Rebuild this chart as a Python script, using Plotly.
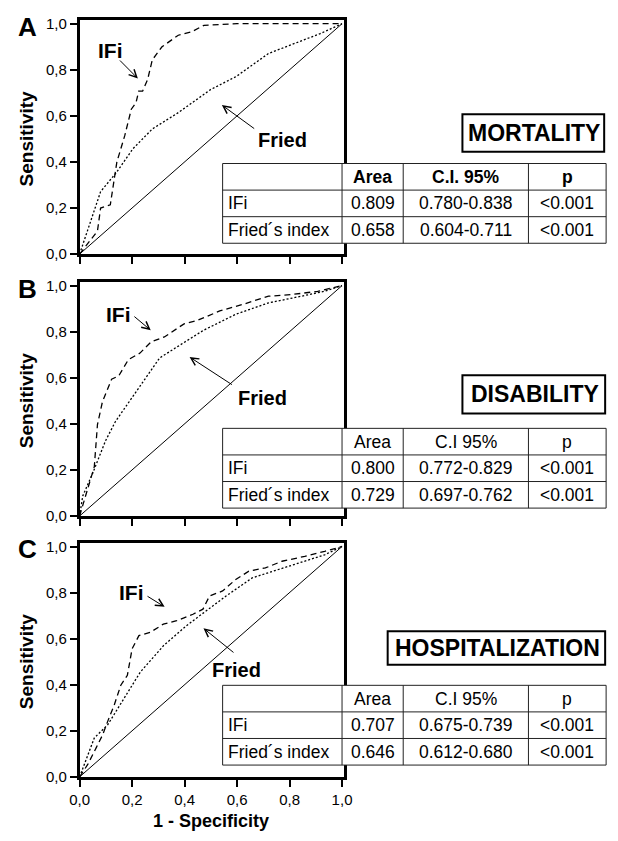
import plotly.graph_objects as go

W, H = 618, 841

# ---------------- data ----------------
panels = ["A", "B", "C"]
outcomes = ["MORTALITY", "DISABILITY", "HOSPITALIZATION"]

ifi_A_x = [0, 0.068, 0.08, 0.117, 0.142, 0.172, 0.197, 0.215, 0.225, 0.24, 0.259, 0.277, 0.314, 0.376, 0.425, 0.474, 0.6, 1.0]
ifi_A_y = [0, 0.10, 0.20, 0.214, 0.40, 0.514, 0.629, 0.657, 0.707, 0.707, 0.757, 0.843, 0.90, 0.95, 0.964, 0.993, 1.0, 1.0]
fried_A_x = [0, 0.08, 0.142, 0.203, 0.277, 0.376, 0.499, 0.597, 0.72, 0.819, 0.917, 1.0]
fried_A_y = [0, 0.271, 0.357, 0.457, 0.543, 0.614, 0.714, 0.771, 0.871, 0.914, 0.957, 1.0]

ifi_B_x = [0, 0.012, 0.056, 0.068, 0.087, 0.122, 0.149, 0.186, 0.23, 0.273, 0.323, 0.398, 0.447, 0.534, 0.621, 0.72, 0.807, 0.907, 1.0]
ifi_B_y = [0, 0.045, 0.214, 0.397, 0.496, 0.594, 0.608, 0.679, 0.707, 0.756, 0.777, 0.834, 0.848, 0.89, 0.918, 0.954, 0.961, 0.975, 1.0]
fried_B_x = [0, 0.012, 0.05, 0.099, 0.137, 0.224, 0.305, 0.373, 0.472, 0.596, 0.72, 0.845, 0.932, 1.0]
fried_B_y = [0, 0.087, 0.186, 0.327, 0.411, 0.552, 0.686, 0.735, 0.806, 0.876, 0.925, 0.954, 0.975, 1.0]

ifi_C_x = [0, 0.031, 0.063, 0.088, 0.107, 0.132, 0.157, 0.182, 0.20, 0.226, 0.269, 0.319, 0.37, 0.432, 0.47, 0.495, 0.545, 0.595, 0.645, 0.708, 0.771, 0.858, 0.934, 1.0]
ifi_C_y = [0, 0.054, 0.126, 0.183, 0.241, 0.312, 0.398, 0.441, 0.556, 0.613, 0.627, 0.663, 0.678, 0.706, 0.728, 0.785, 0.807, 0.857, 0.893, 0.907, 0.936, 0.957, 0.979, 1.0]
fried_C_x = [0, 0.056, 0.107, 0.169, 0.232, 0.32, 0.407, 0.457, 0.558, 0.658, 0.758, 0.858, 0.934, 1.0]
fried_C_y = [0, 0.169, 0.226, 0.341, 0.456, 0.57, 0.656, 0.699, 0.785, 0.864, 0.90, 0.936, 0.964, 1.0]

ifi_x = [ifi_A_x, ifi_B_x, ifi_C_x]
ifi_y = [ifi_A_y, ifi_B_y, ifi_C_y]
fried_x = [fried_A_x, fried_B_x, fried_C_x]
fried_y = [fried_A_y, fried_B_y, fried_C_y]

table_header = ["", "Area", "C.I. 95%", "p"]
table_header_bc = ["", "Area", "C.I 95%", "p"]
row_labels = ["IFi", "Fried\u00b4s index"]
area_values = [["0.809", "0.658"], ["0.800", "0.729"], ["0.707", "0.646"]]
ci_values = [["0.780-0.838", "0.604-0.711"], ["0.772-0.829", "0.697-0.762"], ["0.675-0.739", "0.612-0.680"]]
p_values = [["<0.001", "<0.001"], ["<0.001", "<0.001"], ["<0.001", "<0.001"]]

tick_vals = [0, 0.2, 0.4, 0.6, 0.8, 1.0]
tick_text = ["0,0", "0,2", "0,4", "0,6", "0,8", "1,0"]

# ---------------- layout geometry (pixels) ----------------
FONT = "Arial, Liberation Sans, sans-serif"
X0, X1, XF = 71.7, 342.0, 344.0          # x=0, x=1, frame right
Y0 = [253, 519, 784]                      # y=0 pixel per panel
SPAN = 234                                # pixels per unit y
TOPPAD = 4
TAB_FS = 17.5

def px(x):
    return x / W

def py(y):
    return 1 - y / H

def ptxt(text, x, y, size, anchor="center", **kw):
    d = dict(text=text, x=px(x), y=py(y), xref="paper", yref="paper", showarrow=False,
             xanchor=anchor, yanchor="middle", font=dict(size=size, family=FONT, color="black"))
    d.update(kw)
    return d

fig = go.Figure()
layout = dict(width=W, height=H, margin=dict(l=0, r=0, t=0, b=0),
              paper_bgcolor="white", plot_bgcolor="white", showlegend=False,
              font=dict(family=FONT, color="black"))
annotations = []
shapes = []

xr = [0, (XF - X0) / (X1 - X0)]
for i in range(3):
    suf = "" if i == 0 else str(i + 1)
    xa, ya = "x" + suf, "y" + suf
    y0 = Y0[i]
    ytop = y0 - SPAN - TOPPAD
    layout["xaxis" + suf] = dict(domain=[px(X0), px(XF)], range=xr, anchor=ya,
                                 showline=True, linewidth=2.5, linecolor="black", mirror=True,
                                 ticks="outside", ticklen=7, tickwidth=1.5, tickcolor="black",
                                 tickvals=tick_vals, ticktext=tick_text,
                                 showticklabels=(i == 2), showgrid=False, zeroline=False,
                                 tickfont=dict(size=15, family=FONT))
    layout["yaxis" + suf] = dict(domain=[py(y0), py(ytop)], range=[0, 1 + TOPPAD / SPAN], anchor=xa,
                                 showline=True, linewidth=2.5, linecolor="black", mirror=True,
                                 ticks="outside", ticklen=7, tickwidth=1.5, tickcolor="black",
                                 tickvals=tick_vals, ticktext=tick_text,
                                 showgrid=False, zeroline=False,
                                 tickfont=dict(size=15, family=FONT))
    fig.add_trace(go.Scatter(x=[0, 1], y=[0, 1], mode="lines", xaxis=xa, yaxis=ya,
                             line=dict(color="black", width=1), hoverinfo="skip"))
    fig.add_trace(go.Scatter(x=fried_x[i], y=fried_y[i], mode="lines", xaxis=xa, yaxis=ya,
                             line=dict(color="black", width=1.3, dash="2px,2px"), name="Fried"))
    fig.add_trace(go.Scatter(x=ifi_x[i], y=ifi_y[i], mode="lines", xaxis=xa, yaxis=ya,
                             line=dict(color="black", width=1.3, dash="6px,4px"), name="IFi"))

    annotations.append(ptxt("<b>" + panels[i] + "</b>", 18, y0 - SPAN + 3, 26))
    annotations.append(ptxt("<b>Sensitivity</b>", 17, y0 - SPAN / 2, 19, textangle=-90))

lab = [
    ((0.116, 0.882), (0.148, 0.847), (0.222, 0.762), (0.775, 0.494), (0.671, 0.54), (0.542, 0.647)),
    ((0.148, 0.876), (0.203, 0.871), (0.271, 0.806), (0.697, 0.51), (0.586, 0.566), (0.419, 0.69)),
    ((0.197, 0.80), (0.253, 0.788), (0.324, 0.738), (0.598, 0.463), (0.592, 0.535), (0.472, 0.645)),
]
for i in range(3):
    suf = "" if i == 0 else str(i + 1)
    xa, ya = "x" + suf, "y" + suf
    it, itl, ih, ft, ftl, fh = lab[i]
    annotations.append(dict(text="<b>IFi</b>", x=it[0], y=it[1], xref=xa, yref=ya, showarrow=False,
                            xanchor="center", yanchor="middle", font=dict(size=21, family=FONT)))
    annotations.append(dict(text="<b>Fried</b>", x=ft[0], y=ft[1], xref=xa, yref=ya, showarrow=False,
                            xanchor="center", yanchor="middle", font=dict(size=20, family=FONT)))
    for tl, hd in ((itl, ih), (ftl, fh)):
        annotations.append(dict(text="", x=hd[0], y=hd[1], ax=tl[0], ay=tl[1], xref=xa, yref=ya,
                                axref=xa, ayref=ya, showarrow=True, arrowhead=5, arrowsize=1.5,
                                arrowwidth=1, arrowcolor="black", standoff=0, startstandoff=0))

annotations.append(ptxt("<b>1 - Specificity</b>", (X0 + X1) / 2, 829, 18))

cols = [219, 342, 405, 534, 614]
tab_top = [161, 430, 691]
row_h = 27
boxes = [(466, 111, 612, 149), (466, 376, 613, 415), (389, 636, 613, 670)]
for i in range(3):
    t = tab_top[i]
    b = t + 3 * row_h
    shapes.append(dict(type="rect", xref="paper", yref="paper", x0=px(cols[0]), x1=px(cols[-1]),
                       y0=py(b), y1=py(t), fillcolor="white", line=dict(color="#222", width=1), layer="above"))
    for c in cols[1:-1]:
        shapes.append(dict(type="line", xref="paper", yref="paper", x0=px(c), x1=px(c), y0=py(b), y1=py(t),
                           line=dict(color="#222", width=1), layer="above"))
    for r in (1, 2):
        yy = t + r * row_h
        shapes.append(dict(type="line", xref="paper", yref="paper", x0=px(cols[0]), x1=px(cols[-1]),
                           y0=py(yy), y1=py(yy), line=dict(color="#222", width=1), layer="above"))
    hdr = table_header if i == 0 else table_header_bc
    rows = [hdr,
            [row_labels[0], area_values[i][0], ci_values[i][0], p_values[i][0]],
            [row_labels[1], area_values[i][1], ci_values[i][1], p_values[i][1]]]
    for r, row in enumerate(rows):
        yc = t + (r + 0.5) * row_h
        for c, txt in enumerate(row):
            if not txt:
                continue
            if r == 0 and i == 0:
                txt = "<b>" + txt + "</b>"
            if c == 0:
                annotations.append(ptxt(txt, cols[0] + 3, yc, TAB_FS, anchor="left"))
            else:
                annotations.append(ptxt(txt, (cols[c] + cols[c + 1]) / 2, yc, TAB_FS))
    bx0, by0, bx1, by1 = boxes[i]
    shapes.append(dict(type="rect", xref="paper", yref="paper", x0=px(bx0), x1=px(bx1), y0=py(by1), y1=py(by0),
                       fillcolor="white", line=dict(color="black", width=2), layer="above"))
    annotations.append(ptxt("<b>" + outcomes[i] + "</b>", (bx0 + bx1) / 2 + 1, (by0 + by1) / 2, 23))

layout["annotations"] = annotations
layout["shapes"] = shapes
fig.update_layout(**layout)
fig.write_html("out.html", config={"displayModeBar": False},
               post_script="document.body.style.margin='0px';document.body.style.padding='0px';")
